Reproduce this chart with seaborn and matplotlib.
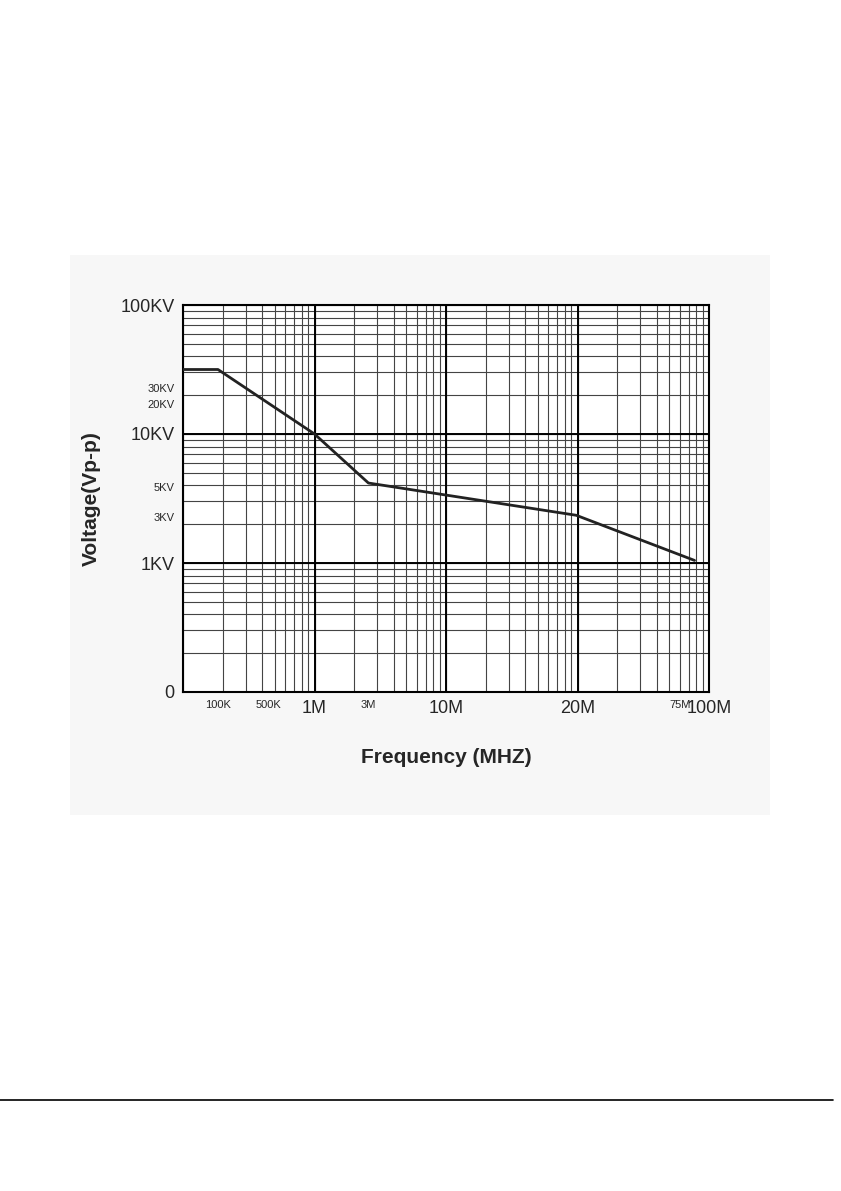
import numpy as np
import pandas as pd
import seaborn as sns
import matplotlib.pyplot as plt

# positions are in "decade units" of the printed log paper
freq_pos = [0.0, 0.266, 1.0, 1.41, 2.99, 3.89]
volt_pos = [2.5, 2.5, 2.0, 1.62, 1.37, 1.02]

xtick_pos = [0.266, 0.65, 1.0, 1.41, 2.0, 3.0, 3.78, 4.0]
xtick_lab = ["100K", "500K", "1M", "3M", "10M", "20M", "75M", "100M"]
xtick_big = [False, False, True, False, True, True, False, True]
ytick_pos = [0.0, 1.0, 1.36, 1.59, 2.0, 2.23, 2.36, 3.0]
ytick_lab = ["0", "1KV", "3KV", "5KV", "10KV", "20KV", "30KV", "100KV"]
ytick_big = [True, True, False, False, True, False, False, True]

sns.set_style("white")
plt.rcParams['font.family'] = ['Liberation Sans', 'DejaVu Sans']

fig = plt.figure(figsize=(8.41, 11.91), dpi=100)
bg = fig.add_axes([70 / 841, 1 - 815 / 1191, 700 / 841, 560 / 1191], zorder=0)
bg.set_facecolor("#f7f7f7")
bg.set_xticks([])
bg.set_yticks([])
for sp in bg.spines.values():
    sp.set_visible(False)
fig.add_artist(plt.Line2D([0.0, 0.99], [1 - 1100 / 1191] * 2, color="black", lw=1.2))

ax = fig.add_axes([183 / 841, 1 - 692 / 1191, 526 / 841, 387 / 1191], zorder=2)
ax.set_facecolor("white")

sub = np.log10(np.arange(1, 11))
for d in range(4):
    for s in sub:
        ax.axvline(d + s, color="#444444", lw=0.8, zorder=1)
for d in range(3):
    for s in sub:
        ax.axhline(d + s, color="#444444", lw=0.8, zorder=1)
for v in [1, 2, 3]:
    ax.axvline(v, color="black", lw=1.4, zorder=1)
ax.axhline(1, color="black", lw=1.4, zorder=1)
ax.axhline(2, color="black", lw=1.4, zorder=1)

df = pd.DataFrame({"f": freq_pos, "v": volt_pos})
sns.lineplot(data=df, x="f", y="v", color="#222222", lw=2, ax=ax, zorder=3,
             sort=False)

ax.set_xlim(0, 4)
ax.set_ylim(0, 3)
for sp in ax.spines.values():
    sp.set_color("black")
    sp.set_linewidth(1.5)

ax.set_xticks(xtick_pos)
ax.set_xticklabels(xtick_lab)
for t, big in zip(ax.get_xticklabels(), xtick_big):
    t.set_fontsize(13 if big else 8)
ax.set_yticks(ytick_pos)
ax.set_yticklabels(ytick_lab)
for t, big in zip(ax.get_yticklabels(), ytick_big):
    t.set_fontsize(13 if big else 8)
ax.tick_params(length=0, pad=6)

ax.set_xlabel("Frequency (MHZ)", fontsize=15, fontweight="bold", labelpad=22)
ax.set_ylabel("Voltage(Vp-p)", fontsize=15, fontweight="bold", labelpad=14)

fig.savefig("out.png", dpi=100)
